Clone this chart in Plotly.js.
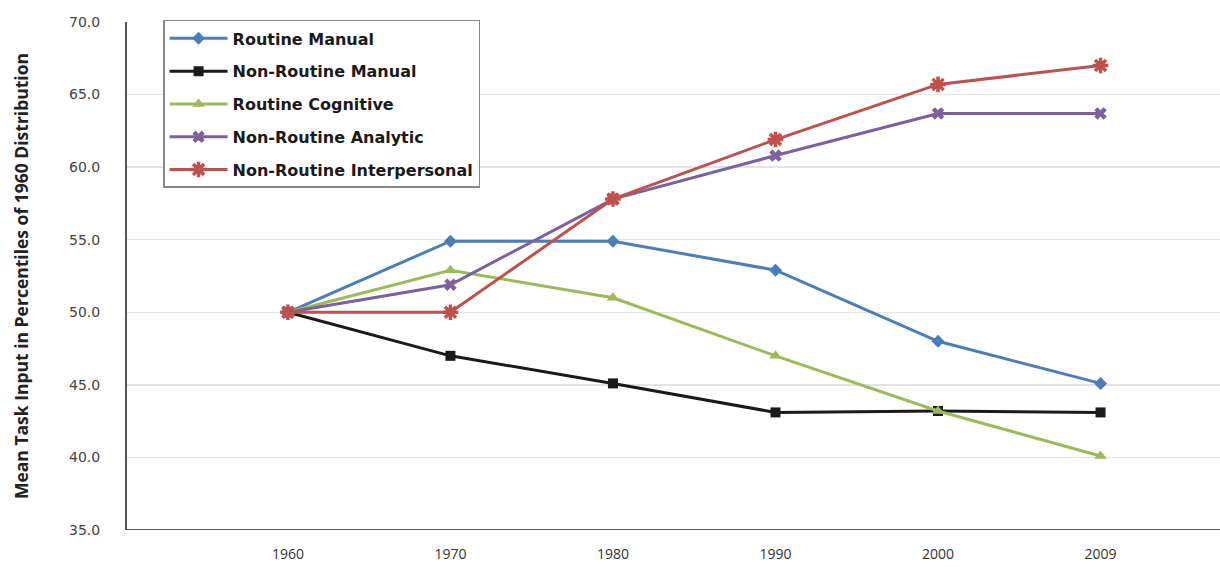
<!DOCTYPE html>
<html>
<head>
<meta charset="utf-8">
<script src="https://cdn.plot.ly/plotly-3.0.1.min.js"></script>
<style>html,body{margin:0;padding:0;background:#fff;}#chart{width:1220px;height:567px;}</style>
</head>
<body>
<div id="chart"></div>
<script>
const years = ['1960', '1970', '1980', '1990', '2000', '2009'];
const routineManual = [50.0, 54.9, 54.9, 52.9, 48.0, 45.1];
const nonRoutineManual = [50.0, 47.0, 45.1, 43.1, 43.2, 43.1];
const routineCognitive = [50.0, 52.9, 51.0, 47.0, 43.2, 40.1];
const nonRoutineAnalytic = [50.0, 51.9, 57.8, 60.8, 63.7, 63.7];
const nonRoutineInterpersonal = [50.0, 50.0, 57.8, 61.9, 65.7, 67.0];
const seriesNames = ['Routine Manual', 'Non-Routine Manual', 'Routine Cognitive', 'Non-Routine Analytic', 'Non-Routine Interpersonal'];
const yTickVals = [35, 40, 45, 50, 55, 60, 65, 70];
const yTickText = ['35.0', '40.0', '45.0', '50.0', '55.0', '60.0', '65.0', '70.0'];

const series = [
  {y: routineManual, color: '#4a7ebb', symbol: 'diamond', size: 10},
  {y: nonRoutineManual, color: '#1a1a1a', symbol: 'square', size: 10},
  {y: routineCognitive, color: '#9bbb59', symbol: 'triangle-up', size: 11},
  {y: nonRoutineAnalytic, color: '#7d60a0', symbol: 'x', size: 11},
  {y: nonRoutineInterpersonal, color: '#c0504d', symbol: 'asterisk-open', size: 13}
];

const traces = series.map((s, i) => ({
  x: years, y: s.y, name: seriesNames[i], type: 'scatter', mode: 'lines+markers',
  legendgroup: 'g' + i,
  line: {color: s.color, width: 3},
  marker: {color: s.color, symbol: s.symbol, size: s.size,
           line: {color: s.color, width: s.symbol === 'asterisk-open' ? 3.5 : 0}}
}));

const layout = {
  width: 1220, height: 567,
  margin: {l: 127, r: 0, t: 22, b: 37},
  paper_bgcolor: '#fff', plot_bgcolor: '#fff',
  font: {family: 'Open Sans, sans-serif', color: '#333'},
  showlegend: true,
  legend: {
    x: 0.033, y: 1.004, xanchor: 'left', yanchor: 'top',
    bgcolor: '#fff', bordercolor: '#888', borderwidth: 1.5,
    font: {family: 'DejaVu Sans, sans-serif', size: 16, color: '#1a1a1a', weight: 'bold'},
    itemwidth: 58, tracegroupgap: 9, traceorder: 'grouped'
  },
  xaxis: {
    type: 'category', range: [-0.99, 5.735],
    showgrid: false, zeroline: false,
    showline: false, ticks: '', ticklabelstandoff: 14,
    tickfont: {family: 'Open Sans, sans-serif', size: 14, color: '#333'}
  },
  yaxis: {
    range: [35, 70], tickvals: yTickVals, ticktext: yTickText,
    showgrid: true, gridcolor: '#e4e4e4', gridwidth: 1.5,
    zeroline: false, showline: true, linecolor: '#555', linewidth: 2,
    ticks: '', ticklabelstandoff: 22,
    tickfont: {family: 'DejaVu Sans, sans-serif', size: 14, color: '#444'},
    title: {text: 'Mean Task Input in Percentiles of 1960 Distribution',
            font: {family: 'Open Sans, sans-serif', size: 17.5, color: '#222', weight: 'bold'},
            standoff: 36}
  },
  shapes: [
    {type: 'line', xref: 'paper', yref: 'y', x0: 0, x1: 1, y0: 35, y1: 35,
     line: {color: '#555', width: 2}}
  ]
};

Plotly.newPlot('chart', traces, layout, {displayModeBar: false, staticPlot: true});
</script>
</body>
</html>
